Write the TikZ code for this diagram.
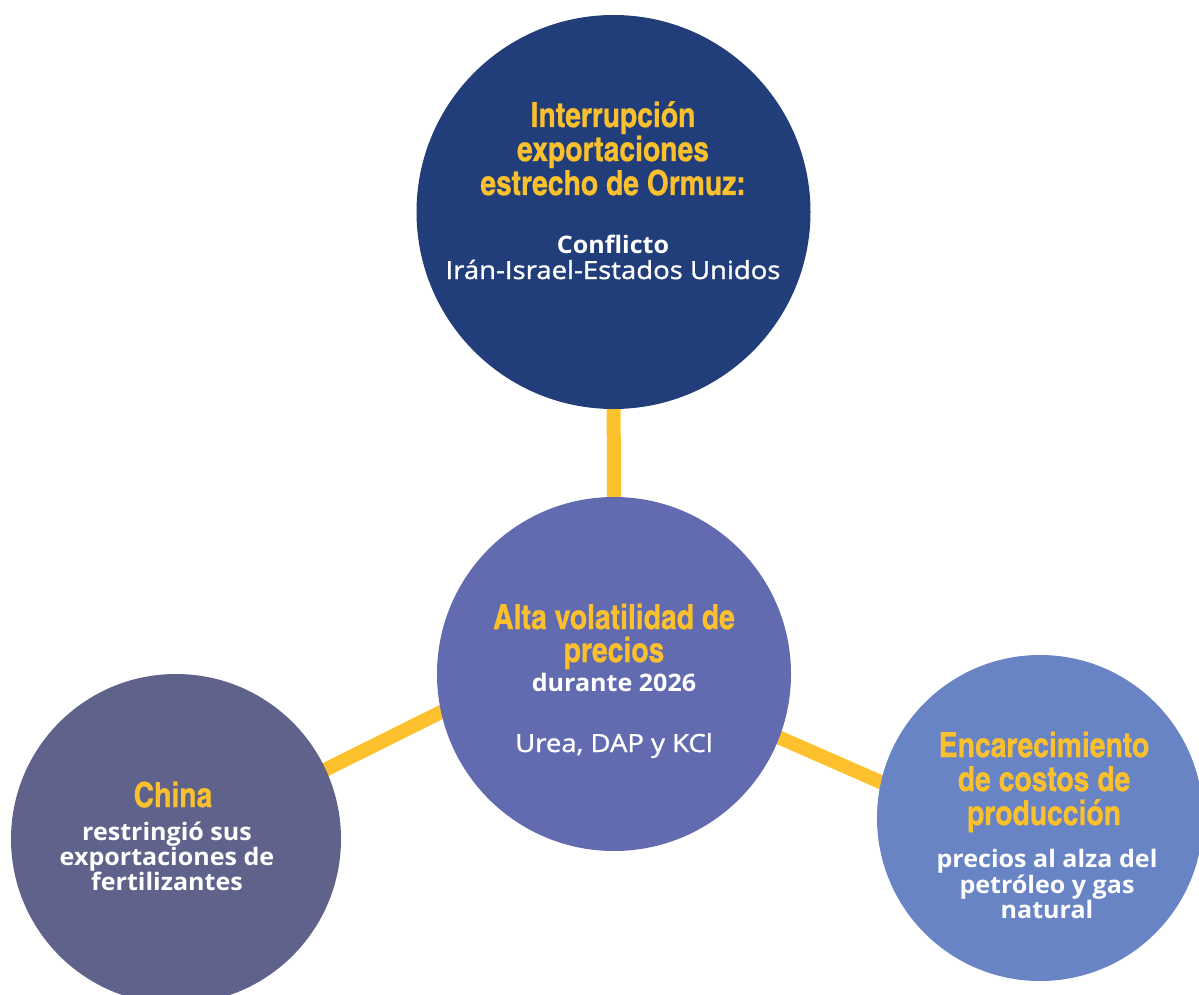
\documentclass[tikz,border=0pt]{standalone}
\usepackage{fontspec}
\setmainfont[FakeStretch=1.04]{Open Sans}
\newfontfamily\headfont[FakeBold=0.6]{texgyreheroscn-bold.otf}
\newfontfamily\medfont[FakeBold=1.2,FakeStretch=1.1]{Open Sans}
\usetikzlibrary{calc,backgrounds}
\definecolor{topblue}{HTML}{213E7A}
\definecolor{midpurple}{HTML}{626BB0}
\definecolor{leftgray}{HTML}{5F638C}
\definecolor{rightblue}{HTML}{6884C4}
\definecolor{linkyellow}{HTML}{FCC12D}
\definecolor{headyellow}{HTML}{FBC02D}
\begin{document}
\begin{tikzpicture}[x=1pt,y=-1pt,
  bubble/.style={circle, inner sep=0pt, minimum size=#1},
  hd/.style={anchor=base, inner sep=0pt, text=headyellow, font=\headfont\fontsize{34.5}{34.5}\selectfont},
  bd/.style={anchor=base, inner sep=0pt, text=white, font=\bfseries\fontsize{24.1}{24.1}\selectfont},
  md/.style={anchor=base, inner sep=0pt, text=white, font=\medfont\fontsize{25}{25}\selectfont},
  link/.style={draw=linkyellow, line width=14pt}]
\useasboundingbox (0,0) rectangle (1199,995);
\clip (0,0) rectangle (1199,995);
% circles
\node[bubble=394pt, fill=topblue] (top) at (613.5,212) {};
\node[bubble=354pt, fill=midpurple] (mid) at (614,674) {};
\node[bubble=330pt, fill=leftgray] (left) at (176,839) {};
\node[bubble=326pt, fill=rightblue] (right) at (1040,818) {};
% connectors
\begin{scope}[on background layer]
\draw[link] (top.center) -- (mid.center);
\draw[link] ($(left.center)+(0,5)$) -- ($(mid.center)+(0,-48)$);
\draw[link] ($(mid.center)+(0,-9)$) -- ($(right.center)+(0,34)$);
\end{scope}
% top texts
\node[hd] (t1) at (613,127) {Interrupción};
\node[hd] (t2) at (613,161) {exportaciones};
\node[hd] (t3) at (613,195) {estrecho de Ormuz:};
\node[bd] (t4) at (613,253) {Conflicto};
\node[md] (t5) at (613,279) {Irán-Israel-Estados Unidos};
% center texts
\node[hd] (c1) at (614,629) {Alta volatilidad de};
\node[hd] (c2) at (614,662) {precios};
\node[bd] (c3) at (614,691) {durante 2026};
\node[md] (c4) at (614,752) {Urea, DAP y KCl};
% left texts
\node[hd] (l1) at (173,807) {China};
\node[bd] (l2) at (167,840) {restringió sus};
\node[bd] (l3) at (167,865) {exportaciones de};
\node[bd] (l4) at (167,890) {fertilizantes};
% right texts
\node[hd] (r1) at (1044,757) {Encarecimiento};
\node[hd] (r2) at (1044,791) {de costos de};
\node[hd] (r3) at (1044,825) {producción};
\node[bd] (r4) at (1047,867) {precios al alza del};
\node[bd] (r5) at (1047,893) {petróleo y gas};
\node[bd] (r6) at (1047,918) {natural};
\end{tikzpicture}
\end{document}
